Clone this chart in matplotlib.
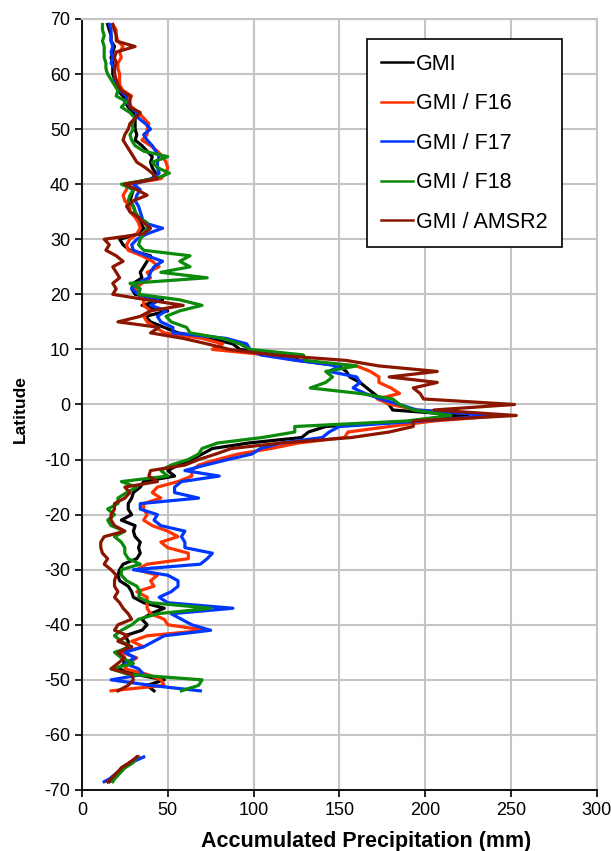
import numpy as np
import matplotlib
matplotlib.use("Agg")
import matplotlib.pyplot as plt

plt.rcParams['font.family'] = ['Liberation Sans', 'DejaVu Sans']
plt.rcParams['axes.unicode_minus'] = False

# latitude of each row, 69N down to 52S, then the antarctic piece
lat_main = np.arange(69, -53, -1)
lat_ant = [-64, -65, -66, -67, -68, -68.5]

# accumulated precipitation (mm), one value per latitude in lat_main
gmi = [15, 16, 17, 17, 19, 18, 17, 18, 18, 18,
       19, 20, 21, 24, 25, 27, 30, 31, 31, 31,
       32, 31, 35, 38, 41, 40, 41, 43, 41, 26,
       30, 29, 28, 30, 31, 32, 34, 36, 33, 22,
       24, 28, 40, 38, 36, 34, 35, 30, 29, 31,
       47, 35, 50, 37, 40, 48, 56, 75, 88, 92,
       117, 127, 150, 154, 156, 162, 166, 170, 174, 179,
       181, 225, 195, 142, 132, 128, 97, 76, 70, 64,
       56, 50, 54, 36, 34, 30, 29, 27, 27, 29,
       23, 31, 30, 31, 34, 33, 34, 32, 24, 22,
       21, 22, 27, 29, 30, 36, 48, 40, 35, 38,
       35, 25, 27, 27, 21, 23, 25, 21, 31, 48,
       38, 42]
f16 = [18, 20, 20, 21, 24, 22, 23, 21, 21, 22,
       22, 22, 24, 29, 27, 29, 33, 36, 39, 38,
       38, 35, 40, 44, 47, 49, 50, 49, 46, 27,
       26, 24, 25, 28, 28, 31, 33, 34, 32, 28,
       26, 27, 35, 41, 45, 38, 40, 35, 31, 34,
       36, 36, 40, 36, 38, 43, 48, 70, 82, 76,
       108, 125, 160, 168, 173, 173, 180, 185, 172, 180,
       195, 245, 205, 179, 155, 153, 126, 110, 91, 79,
       68, 64, 64, 56, 44, 41, 46, 36, 36, 38,
       36, 41, 50, 56, 46, 50, 62, 62, 38, 32,
       44, 40, 42, 32, 38, 38, 38, 40, 48, 50,
       72, 38, 29, 36, 23, 32, 27, 25, 38, 46,
       48, 17]
f17 = [16, 17, 17, 17, 18, 17, 18, 17, 19, 19,
       19, 21, 22, 26, 26, 28, 32, 33, 37, 40,
       36, 38, 41, 43, 45, 44, 44, 45, 41, 30,
       34, 32, 31, 33, 34, 35, 36, 47, 38, 32,
       29, 30, 38, 47, 42, 40, 39, 32, 29, 33,
       45, 40, 49, 44, 46, 53, 53, 84, 96, 98,
       104, 125, 150, 144, 160, 162, 158, 165, 174, 185,
       195, 240, 198, 150, 144, 140, 116, 104, 99, 85,
       72, 60, 80, 58, 54, 54, 68, 34, 34, 44,
       42, 46, 60, 58, 60, 60, 76, 73, 69, 30,
       50, 56, 56, 52, 45, 50, 88, 52, 58, 64,
       75, 48, 42, 36, 25, 31, 25, 33, 36, 17,
       40, 69]
f18 = [12, 12, 13, 12, 13, 13, 13, 14, 14, 15,
       17, 19, 21, 20, 26, 23, 28, 31, 29, 30,
       28, 29, 31, 36, 50, 41, 44, 51, 43, 23,
       30, 28, 27, 30, 31, 33, 38, 38, 36, 34,
       33, 36, 63, 57, 63, 46, 73, 28, 34, 33,
       57, 70, 57, 49, 52, 61, 63, 82, 92, 98,
       129, 130, 160, 142, 146, 142, 133, 162, 181, 185,
       193, 215, 189, 124, 124, 105, 79, 70, 68, 62,
       52, 46, 50, 23, 32, 26, 21, 21, 15, 19,
       15, 17, 25, 19, 23, 25, 25, 27, 34, 23,
       23, 26, 32, 34, 33, 40, 75, 44, 33, 29,
       23, 19, 23, 29, 19, 23, 30, 17, 27, 70,
       68, 58]
amsr2 = [18, 19, 20, 20, 31, 20, 19, 20, 19, 19,
         20, 21, 23, 28, 28, 28, 34, 31, 28, 27,
         25, 24, 26, 28, 30, 32, 37, 41, 44, 25,
         32, 38, 30, 26, 28, 33, 36, 40, 36, 13,
         16, 14, 20, 24, 18, 20, 22, 18, 20, 18,
         38, 59, 40, 34, 21, 45, 40, 59, 73, 86,
         111, 154, 173, 207, 179, 207, 193, 197, 199, 252,
         205, 253, 193, 193, 179, 157, 116, 87, 78, 68,
         60, 40, 39, 44, 25, 28, 25, 19, 19, 17,
         17, 19, 25, 13, 11, 11, 12, 15, 13, 17,
         20, 19, 19, 21, 19, 22, 24, 27, 29, 21,
         19, 27, 21, 29, 21, 25, 21, 17, 29, 30,
         27, 21]

# antarctic piece
gmi_ant = [33, 28, 23, 21, 18, 16]
f16_ant = [33, 28, 24, 20, 17, 15]
f17_ant = [36, 29, 24, 20, 16, 13]
f18_ant = [32, 30, 25, 22, 19, 18]
amsr2_ant = [32, 28, 23, 20, 17, 15]

labels = ['GMI', 'GMI / F16', 'GMI / F17', 'GMI / F18', 'GMI / AMSR2']
colors = ['#000000', '#ff3300', '#0037ff', '#0b8a0b', '#8b1600']
series = [(gmi, gmi_ant), (f16, f16_ant), (f17, f17_ant),
          (f18, f18_ant), (amsr2, amsr2_ant)]

fig = plt.figure(figsize=(6.11, 8.51), dpi=100)
ax = fig.add_axes([0.134, 0.0717, 0.843, 0.906])

for (main, ant), lab, col in zip(series, labels, colors):
    # NaN between the two pieces breaks the line
    x = np.concatenate([main, [np.nan], ant])
    y = np.concatenate([lat_main, [np.nan], lat_ant])
    ax.plot(x, y, color=col, lw=2.3, label=lab)

ax.set_xlim(0, 300)
ax.set_ylim(-70, 70)
ax.set_xticks(np.arange(0, 301, 50))
ax.set_yticks(np.arange(-70, 71, 10))
ax.grid(True, color='#c4c4c4', lw=1.5)
ax.set_axisbelow(True)
for s in ['top', 'right']:
    ax.spines[s].set_color('#c4c4c4')
    ax.spines[s].set_linewidth(1.5)
for s in ['left', 'bottom']:
    ax.spines[s].set_linewidth(1.3)
ax.tick_params(direction='out', length=5, width=1.2, labelsize=13)

ax.set_xlabel('Accumulated Precipitation (mm)', fontsize=15.5,
              fontweight='bold')
ax.xaxis.set_label_coords(0.551, -0.053)
ax.set_ylabel('Latitude', fontsize=12.5, fontweight='bold')
ax.yaxis.set_label_coords(-0.105, 0.4935)

leg = ax.legend(loc='upper left', bbox_to_anchor=(0.553, 0.974),
                fontsize=15.5, frameon=True, fancybox=False,
                edgecolor='black', framealpha=1, labelspacing=0.86,
                handlelength=1.45, handletextpad=0.15, borderpad=0.68,
                borderaxespad=0)
leg.get_frame().set_linewidth(1.2)
for h in leg.get_lines():
    h.set_linewidth(1.8)

fig.savefig('out.png', dpi=100)
